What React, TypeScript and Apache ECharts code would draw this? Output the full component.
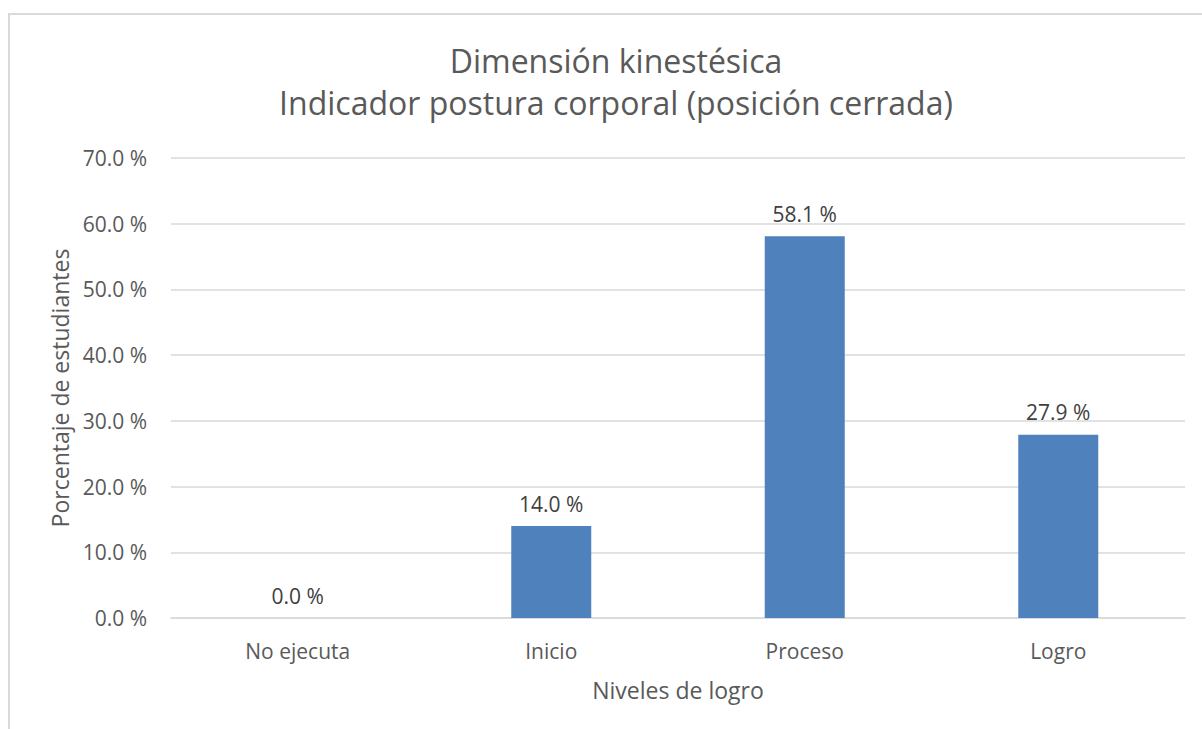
import React, { useEffect, useRef } from "react";
import * as echarts from "echarts";

const titleLines = ["Dimensión kinestésica", "Indicador postura corporal (posición cerrada)"];
const categories = ["No ejecuta", "Inicio", "Proceso", "Logro"];
const values = [0.0, 14.0, 58.1, 27.9];
const yAxisName = "Porcentaje de estudiantes";
const xAxisName = "Niveles de logro";

const FONT = "'Open Sans', 'Noto Sans', sans-serif";
const GRAY = "#595959";

export default function App() {
  const ref = useRef<HTMLDivElement>(null);
  useEffect(() => {
    if (!ref.current) return;
    const chart = echarts.init(ref.current, undefined, { renderer: "svg" });
    chart.setOption({
      animation: false,
      backgroundColor: "#ffffff",
      textStyle: { fontFamily: FONT },
      title: {
        text: titleLines.join("\n"),
        left: 611,
        textAlign: "center",
        top: 34,
        textStyle: { fontFamily: FONT, fontSize: 32, fontWeight: "normal", color: GRAY, lineHeight: 42 },
      },
      graphic: [
        {
          type: "rect",
          shape: { x: 9, y: 14, width: 1220, height: 760 },
          style: { fill: "none", stroke: "#d9d9d9", lineWidth: 2 },
          silent: true,
        },
      ],
      grid: { left: 171, right: 17, top: 158, bottom: 111, containLabel: false },
      xAxis: {
        type: "category",
        data: categories,
        axisLine: { show: true, lineStyle: { color: "#d9d9d9", width: 1.5 } },
        axisTick: { show: false },
        axisLabel: { color: GRAY, fontSize: 21, fontFamily: FONT, margin: 22 },
        name: xAxisName,
        nameLocation: "middle",
        nameGap: 60,
        nameTextStyle: { color: GRAY, fontSize: 23, fontFamily: FONT },
      },
      yAxis: {
        type: "value",
        min: 0,
        max: 70,
        interval: 10,
        axisLine: { show: false },
        axisTick: { show: false },
        splitLine: { lineStyle: { color: "#d9d9d9", width: 1.5 } },
        axisLabel: {
          color: GRAY,
          fontSize: 21,
          fontFamily: FONT,
          margin: 24,
          formatter: (v: number) => v.toFixed(1) + " %",
        },
        name: yAxisName,
        nameLocation: "middle",
        nameGap: 98,
        nameTextStyle: { color: GRAY, fontSize: 23, fontFamily: FONT },
      },
      series: [
        {
          type: "bar",
          data: values,
          barWidth: 80,
          itemStyle: { color: "#4f81bd" },
          label: {
            show: true,
            position: "top",
            distance: 12,
            color: "#404040",
            fontSize: 21,
            fontFamily: FONT,
            formatter: (p: any) => Number(p.value).toFixed(1) + " %",
          },
        },
      ],
    });
    return () => chart.dispose();
  }, []);
  return (
    <div
      ref={ref}
      style={{ position: "fixed", left: 0, top: 0, width: 1202, height: 729, background: "#fff" }}
    />
  );
}
